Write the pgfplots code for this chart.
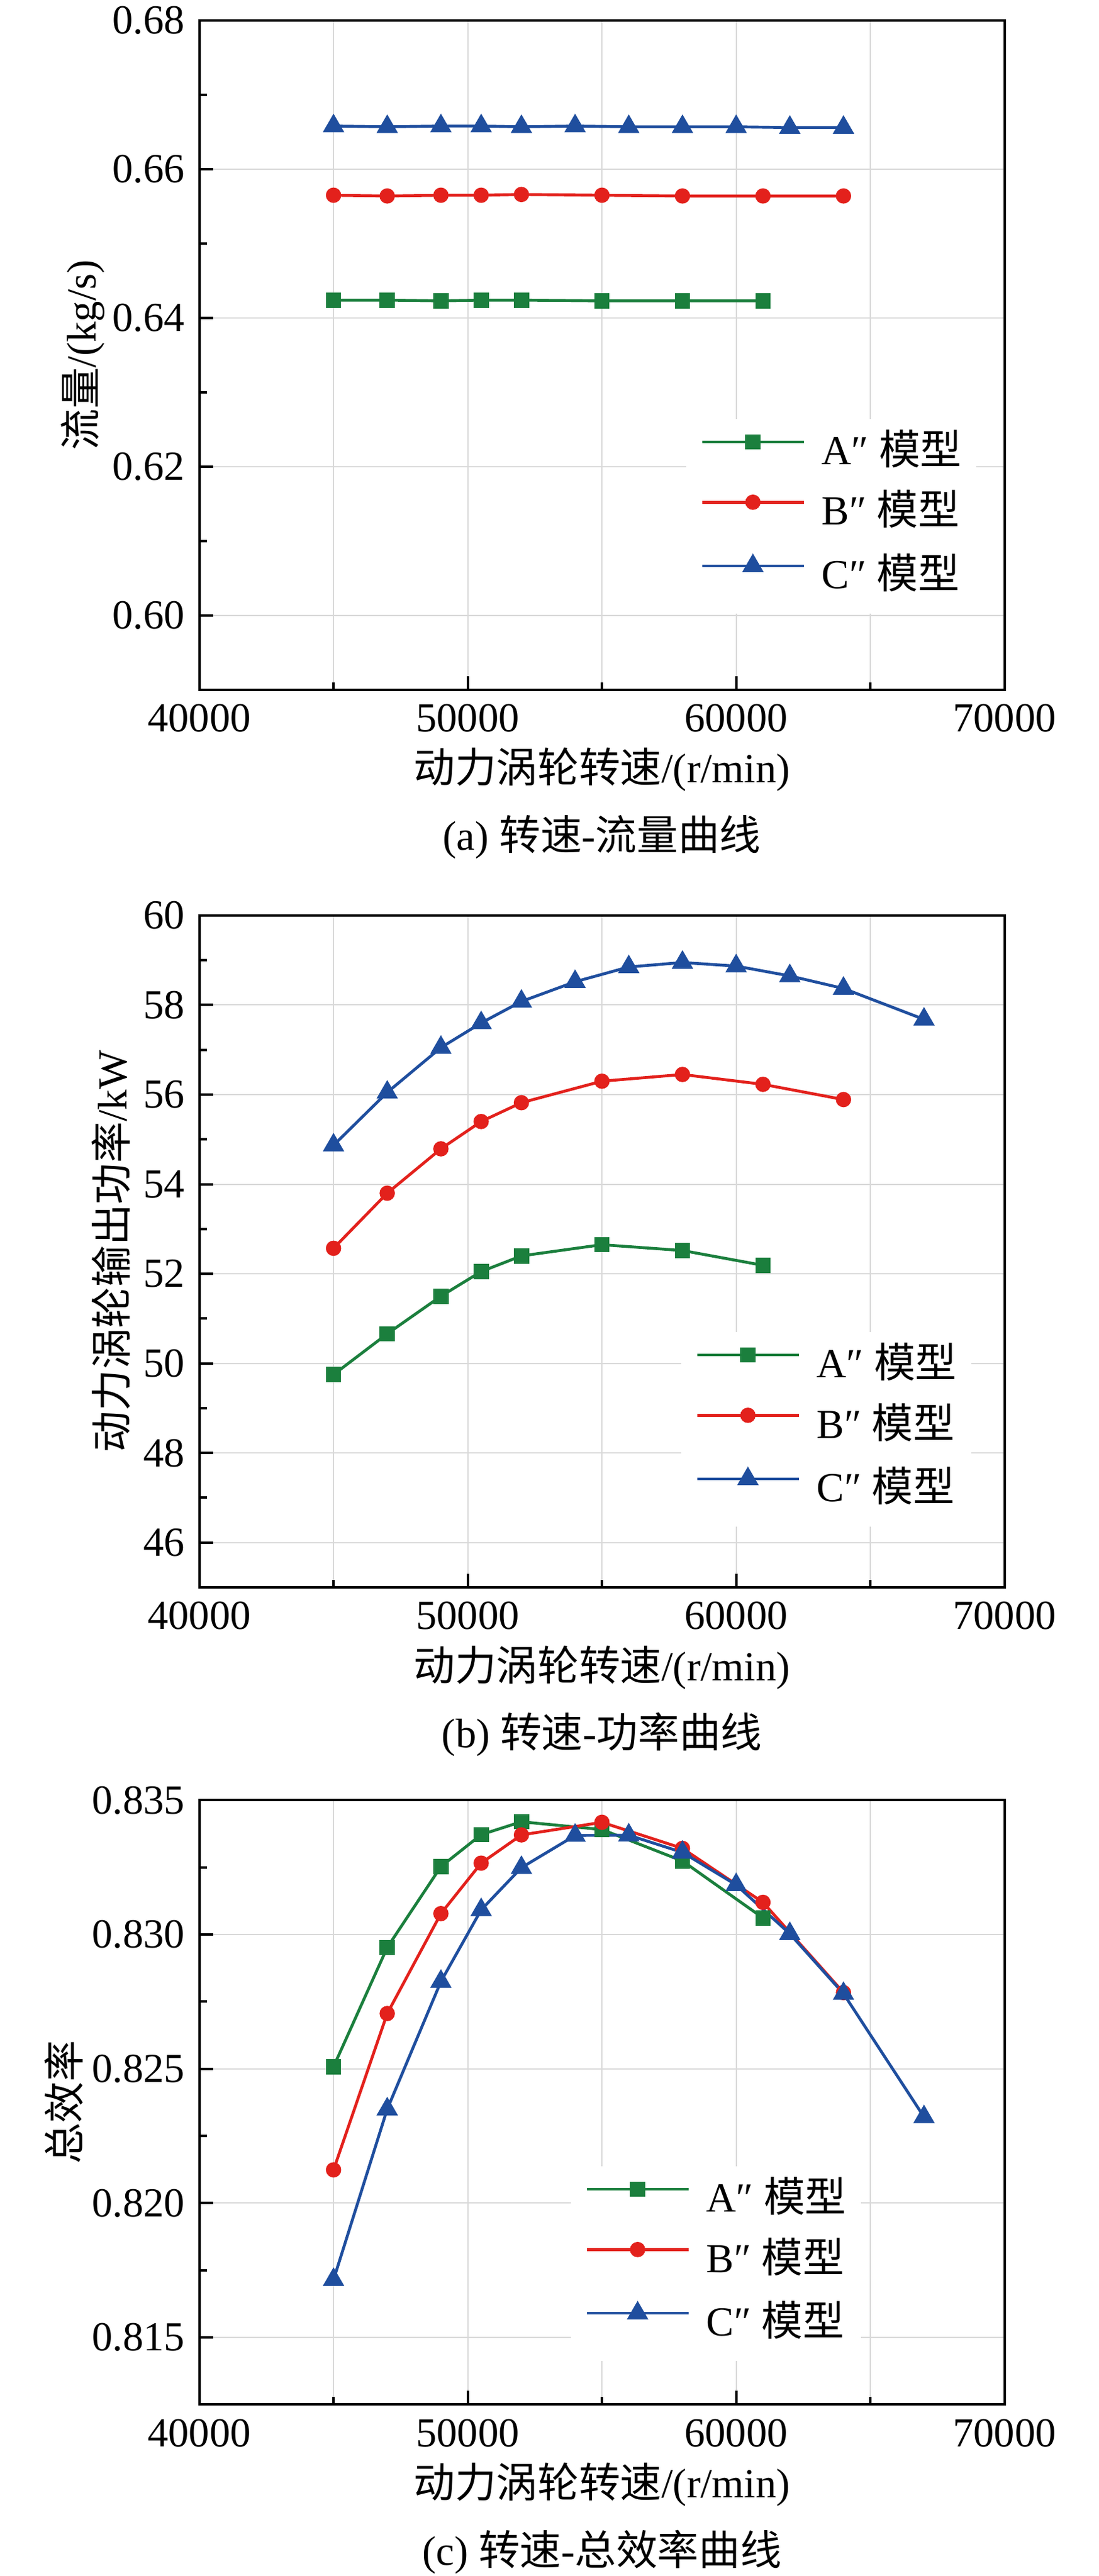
\documentclass[border=0pt]{standalone}
\usepackage{fontspec}
\setmainfont{Liberation Serif}
\newfontfamily\cjk{Noto Sans CJK SC}
\usepackage{pgfplots}
\pgfplotsset{compat=1.18}

\definecolor{cA}{HTML}{1B7F3D}
\definecolor{cB}{HTML}{E3211C}
\definecolor{cC}{HTML}{1F4E9E}

\pgfplotsset{
 myaxis/.style={
  scale only axis, width=194.85pt,
  xmin=40000, xmax=70000, xtick={40000,50000,60000,70000}, minor x tick num=1,
  scaled x ticks=false, scaled y ticks=false,
  tick align=inside, xtick pos=bottom, ytick pos=left,
  major tick length=3.3pt, minor tick length=1.8pt,
  axis line style={line width=0.6pt},
  every tick/.style={black, line width=0.6pt},
  xmajorgrids, xminorgrids, ymajorgrids,
  major grid style={line width=0.3pt, gray!30},
  minor grid style={line width=0.3pt, gray!30},
  /pgf/number format/assume math mode=true,
  /pgf/number format/set thousands separator={},
  xticklabel style={/pgf/number format/.cd, fixed, precision=0, 1000 sep={}},
  tick label style={font=\fontsize{10}{12}\selectfont},
  label style={font=\fontsize{10}{12}\selectfont},
  xlabel={{\cjk 动力涡轮转速}/(r/min)},
  legend cell align=left,
  legend style={draw=none, fill=white, anchor=west, inner xsep=3.5pt, inner ysep=4pt,
     font=\fontsize{10}{12}\selectfont, row sep=5.6pt, column sep=4pt,
     nodes={inner sep=0pt, text height=7pt, text depth=2pt}},
  legend image code/.code={\draw[mark repeat=2, mark phase=2] plot coordinates {(0pt,3pt)(12.3pt,3pt)(24.6pt,3pt)};},
  every axis plot/.append style={line width=0.7pt},
 },
 sA/.style={cA, mark=square*, mark size=1.5pt, mark options={solid}},
 sB/.style={cB, mark=*, mark size=1.5pt, mark options={solid}},
 sC/.style={cC, mark=triangle*, mark size=2.3pt, mark options={solid}},
}

\begin{document}
\begin{tikzpicture}
\useasboundingbox (0,0) rectangle (265.8pt,623.4pt);

% (a)
\begin{axis}[myaxis, at={(48.24pt,456.45pt)}, anchor=south west, height=162pt,
  ymin=0.59, ymax=0.68, ytick={0.60,0.62,0.64,0.66,0.68}, minor y tick num=1,
  yticklabel style={/pgf/number format/.cd, fixed, fixed zerofill, precision=2},
  ylabel={{\cjk 流量}/(kg/s)},
  ylabel style={at={(axis description cs:-0.1288,0.5)}, anchor=base},
  xlabel style={at={(axis description cs:0.5,-0.1389)}, anchor=base},
  legend style={at={(axis description cs:0.6036,0.2593)}}]
\addplot[sA] coordinates {(45000,0.6424)(47000,0.6424)(49000,0.6423)(50500,0.6424)(52000,0.6424)(55000,0.6423)(58000,0.6423)(61000,0.6423)};
\addplot[sB] coordinates {(45000,0.6565)(47000,0.6564)(49000,0.6565)(50500,0.6565)(52000,0.6566)(55000,0.6565)(58000,0.6564)(61000,0.6564)(64000,0.6564)};
\addplot[sC] coordinates {(45000,0.6658)(47000,0.6657)(49000,0.6658)(50500,0.6658)(52000,0.6657)(54000,0.6658)(56000,0.6657)(58000,0.6657)(60000,0.6657)(62000,0.6656)(64000,0.6656)};
\legend{A″ {\cjk 模型},B″ {\cjk 模型},C″ {\cjk 模型}}
\end{axis}

% (b)
\begin{axis}[myaxis, at={(48.24pt,239.25pt)}, anchor=south west, height=162.6pt,
  ymin=45, ymax=60, ytick={46,48,50,52,54,56,58,60}, minor y tick num=1,
  ylabel={{\cjk 动力涡轮输出功率}/kW},
  ylabel style={at={(axis description cs:-0.0898,0.5)}, anchor=base},
  xlabel style={at={(axis description cs:0.5,-0.1384)}, anchor=base},
  legend style={at={(axis description cs:0.5974,0.2352)}}]
\addplot[sA] coordinates {(45000,49.75)(47000,50.66)(49000,51.50)(50500,52.05)(52000,52.40)(55000,52.65)(58000,52.52)(61000,52.19)};
\addplot[sB] coordinates {(45000,52.57)(47000,53.80)(49000,54.79)(50500,55.40)(52000,55.82)(55000,56.30)(58000,56.45)(61000,56.23)(64000,55.89)};
\addplot[sC] coordinates {(45000,54.87)(47000,56.05)(49000,57.05)(50500,57.60)(52000,58.08)(54000,58.52)(56000,58.85)(58000,58.95)(60000,58.87)(62000,58.65)(64000,58.37)(67000,57.68)};
\legend{A″ {\cjk 模型},B″ {\cjk 模型},C″ {\cjk 模型}}
\end{axis}

% (c)
\begin{axis}[myaxis, at={(48.24pt,41.475pt)}, anchor=south west, height=146.25pt,
  ymin=0.8125, ymax=0.835, ytick={0.815,0.820,0.825,0.830,0.835}, minor y tick num=1,
  yticklabel style={/pgf/number format/.cd, fixed, fixed zerofill, precision=3},
  ylabel={{\cjk 总效率}},
  ylabel style={at={(axis description cs:-0.1488,0.5)}, anchor=base},
  xlabel style={at={(axis description cs:0.5,-0.1538)}, anchor=base},
  legend style={at={(axis description cs:0.4604,0.2333)}}]
\addplot[sA] coordinates {(45000,0.82508)(47000,0.82952)(49000,0.83253)(50500,0.83372)(52000,0.83420)(55000,0.83391)(58000,0.83274)(61000,0.83062)};
\addplot[sB] coordinates {(45000,0.82124)(47000,0.82706)(49000,0.83078)(50500,0.83266)(52000,0.83371)(55000,0.83418)(58000,0.83321)(61000,0.83120)(64000,0.82784)};
\addplot[sC] coordinates {(45000,0.81715)(47000,0.82350)(49000,0.82825)(50500,0.83092)(52000,0.83249)(54000,0.83369)(56000,0.83370)(58000,0.83306)(60000,0.83185)(62000,0.83003)(64000,0.82780)(67000,0.82321)};
\legend{A″ {\cjk 模型},B″ {\cjk 模型},C″ {\cjk 模型}}
\end{axis}

\node[anchor=base, font=\fontsize{10}{12}\selectfont] at (145.67pt,417.6pt) {(a) {\cjk 转速}-{\cjk 流量曲线}};
\node[anchor=base, font=\fontsize{10}{12}\selectfont] at (145.67pt,200.4pt) {(b) {\cjk 转速}-{\cjk 功率曲线}};
\node[anchor=base, font=\fontsize{10}{12}\selectfont] at (145.67pt,2.625pt) {(c) {\cjk 转速}-{\cjk 总效率曲线}};
\end{tikzpicture}
\end{document}
